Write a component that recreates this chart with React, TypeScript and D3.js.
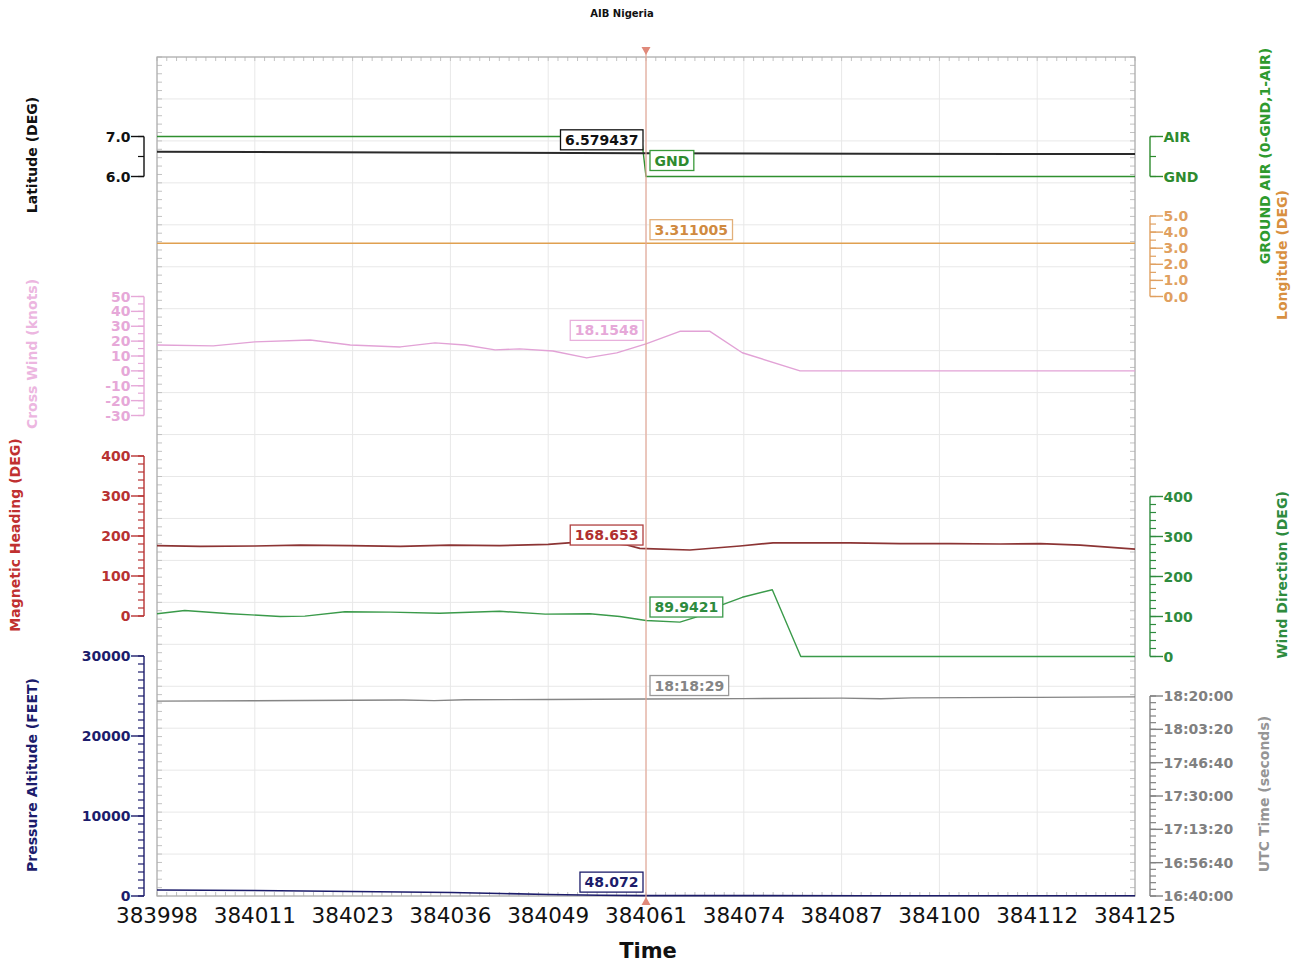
import React from "react";
import * as d3 from "d3";

// ---- data -------------------------------------------------------------
const TITLE = "AIB Nigeria";
const X_DOMAIN: [number, number] = [383998, 384125];
const X_TICK_VALUES = [383998, 384010.7, 384023.4, 384036.1, 384048.8, 384061.5, 384074.2, 384086.9, 384099.6, 384112.3, 384125];
const X_TICK_LABELS = ["383998", "384011", "384023", "384036", "384049", "384061", "384074", "384087", "384100", "384112", "384125"];
const CURSOR_TIME = 384061.5;

// values shown at the cursor
const CUR_LAT = 6.579437;
const CUR_GROUND = 0;
const CUR_LON = 3.311005;
const CUR_XWIND = 18.1548;
const CUR_HDG = 168.653;
const CUR_WDIR = 89.9421;
const CUR_UTC = 65909;
const CUR_ALT = 48.072;

const latitude: [number, number][] = [
  [383998, 6.62], [384030, 6.6], [CURSOR_TIME, CUR_LAT], [384090, 6.57], [384125, 6.56],
];
const groundAir: [number, number][] = [
  [383998, 1], [384060.9, 1], [CURSOR_TIME, CUR_GROUND], [384125, 0],
];
const longitude: [number, number][] = [
  [383998, CUR_LON], [CURSOR_TIME, CUR_LON], [384125, CUR_LON],
];
const crossWind: [number, number][] = [
  [383998, 17.4], [384005.3, 16.8], [384010.7, 19.5], [384017.9, 20.8], [384023.1, 17.4],
  [384029.6, 16.1], [384034.1, 18.8], [384038, 17.4], [384041.9, 14.1], [384045.1, 14.8],
  [384049.4, 13.4], [384053.8, 8.7], [384057.7, 12.1], [CURSOR_TIME, CUR_XWIND],
  [384065.9, 26.6], [384069.8, 26.6], [384074, 12.2], [384081.5, 0], [384125, 0],
];
const magHeading: [number, number][] = [
  [383998, 176], [384003.6, 174], [384010.7, 175], [384016.6, 177], [384023.1, 176],
  [384029.6, 174], [384036, 177], [384042.5, 176], [384048.8, 179], [384052.3, 184],
  [384055, 186], [384059, 177.5], [384060.7, 169], [CURSOR_TIME, CUR_HDG], [384067.2, 165],
  [384073.7, 175], [384078, 183], [384081.5, 183], [384088, 183], [384094.5, 181],
  [384101, 181], [384107.5, 180], [384112.7, 181], [384117.9, 177], [384125, 167],
];
const windDir: [number, number][] = [
  [383998, 107], [384001.6, 115], [384007.5, 107], [384014, 100], [384017.2, 101],
  [384022.4, 112], [384028.3, 111], [384034.7, 108], [384042.5, 113], [384048.4, 106],
  [384054.2, 107], [384058.1, 100], [CURSOR_TIME, CUR_WDIR], [384065.9, 86],
  [384067.9, 98], [384071.1, 127], [384074, 148], [384077.9, 167], [384081.6, 0], [384125, 0],
];
const pressureAlt: [number, number][] = [
  [383998, 750], [384010.7, 680], [384023.4, 560], [384036.2, 430], [384042.5, 320],
  [384048.8, 180], [384055.5, 90], [CURSOR_TIME, CUR_ALT], [384090, 35], [384125, 30],
];
const utcSeconds: [number, number][] = [
  [383998, 65846], [384010.7, 65859], [384023.4, 65871], [384030, 65878], [384034, 65862],
  [384038, 65886], [384048.8, 65897], [CURSOR_TIME, CUR_UTC], [384074.2, 65922],
  [384086.9, 65935], [384092, 65918], [384096, 65944], [384112.3, 65960], [384125, 65973],
];

const LAT_TICKS = [6.0, 7.0];
const GA_TICKS = [0, 1];
const GA_LABELS = ["GND", "AIR"];
const LON_TICKS = [0, 1, 2, 3, 4, 5];
const XWIND_TICKS = [-30, -20, -10, 0, 10, 20, 30, 40, 50];
const HDG_TICKS = [0, 100, 200, 300, 400];
const WDIR_TICKS = [0, 100, 200, 300, 400];
const ALT_TICKS = [0, 10000, 20000, 30000];
const UTC_TICKS = [60000, 61000, 62000, 63000, 64000, 65000, 66000];

// ---- layout -----------------------------------------------------------
const W = 1302;
const H = 965;
const PLOT = { left: 157, right: 1135, top: 57, bottom: 896 };
const LEFT_AXIS_X = 144;
const RIGHT_AXIS_X = 1150;
const FONT = "'DejaVu Sans', Verdana, sans-serif";

const hms = (s: number) => {
  const h = Math.floor(s / 3600);
  const m = Math.floor((s % 3600) / 60);
  const sec = Math.round(s % 60);
  return [h, m, sec].map((v) => String(v).padStart(2, "0")).join(":");
};

let measureCtx: CanvasRenderingContext2D | null = null;
function textWidth(t: string, font: string) {
  if (!measureCtx && typeof document !== "undefined") {
    measureCtx = document.createElement("canvas").getContext("2d");
  }
  if (!measureCtx) return t.length * 9;
  measureCtx.font = font;
  return measureCtx.measureText(t).width;
}

type Scale = d3.ScaleLinear<number, number>;

function YAxis(props: {
  scale: Scale;
  side: "left" | "right";
  ticks: number[];
  minorStep: number;
  fmt: (v: number, i: number) => string;
  color: string;
}) {
  const { scale, side, ticks, minorStep, fmt, color } = props;
  const x = side === "left" ? LEFT_AXIS_X : RIGHT_AXIS_X;
  const dir = side === "left" ? -1 : 1;
  const [d0, d1] = scale.domain();
  const minors = d3.range(d0, d1 + minorStep / 2, minorStep);
  const [r0, r1] = scale.range();
  return (
    <g>
      <line x1={x} x2={x} y1={r0} y2={r1} stroke={color} strokeWidth={1.4} />
      {minors.map((v, i) => (
        <line key={"m" + i} x1={x} x2={x + dir * 6} y1={scale(v)} y2={scale(v)} stroke={color} strokeWidth={1.2} />
      ))}
      {ticks.map((v, i) => (
        <g key={"t" + i}>
          <line x1={x} x2={x + dir * 13} y1={scale(v)} y2={scale(v)} stroke={color} strokeWidth={1.4} />
          <text
            x={x + dir * 13.5}
            y={scale(v)}
            dy="0.36em"
            textAnchor={side === "left" ? "end" : "start"}
            fill={color}
            fontSize={14}
            fontWeight="bold"
            fontFamily={FONT}
          >
            {fmt(v, i)}
          </text>
        </g>
      ))}
    </g>
  );
}

function AxisTitle(props: { x: number; y: number; text: string; color: string }) {
  return (
    <text
      transform={`translate(${props.x},${props.y}) rotate(-90)`}
      textAnchor="middle"
      dy="0.36em"
      fill={props.color}
      fontSize={14}
      fontWeight="bold"
      fontFamily={FONT}
    >
      {props.text}
    </text>
  );
}

export default function App() {
  const x = d3.scaleLinear().domain(X_DOMAIN).range([PLOT.left, PLOT.right]);
  const yLat = d3.scaleLinear().domain([6, 7]).range([176.5, 136.5]);
  const yGA = d3.scaleLinear().domain([0, 1]).range([176.5, 136.5]);
  const yLon = d3.scaleLinear().domain([0, 5]).range([296.5, 216]);
  const yXW = d3.scaleLinear().domain([-30, 50]).range([415.5, 296.5]);
  const yHdg = d3.scaleLinear().domain([0, 400]).range([616, 456]);
  const yWd = d3.scaleLinear().domain([0, 400]).range([656.5, 496.5]);
  const yAlt = d3.scaleLinear().domain([0, 30000]).range([896, 656]);
  const yUtc = d3.scaleLinear().domain([60000, 66000]).range([896, 696]);

  const series = [
    { data: groundAir, y: yGA, color: "#2f8f2f", w: 1.4 },
    { data: latitude, y: yLat, color: "#2a2a2a", w: 2 },
    { data: longitude, y: yLon, color: "#e0a050", w: 1.6 },
    { data: crossWind, y: yXW, color: "#e2a2d6", w: 1.4 },
    { data: magHeading, y: yHdg, color: "#8c3434", w: 1.7 },
    { data: windDir, y: yWd, color: "#3a9a4a", w: 1.4 },
    { data: pressureAlt, y: yAlt, color: "#1c1c6a", w: 1.6 },
    { data: utcSeconds, y: yUtc, color: "#858585", w: 1.4 },
  ];

  const cx = x(CURSOR_TIME);
  const boxFont = `bold 14px ${FONT}`;
  const boxes = [
    { text: CUR_LAT.toFixed(6), y: yLat(CUR_LAT), side: "left", color: "#111111", border: "#111111", gap: 3.5 },
    { text: GA_LABELS[CUR_GROUND], y: yGA(CUR_GROUND), side: "right", color: "#2e8b2e", border: "#3a9a3a", gap: 6 },
    { text: CUR_LON.toFixed(6), y: yLon(CUR_LON), side: "right", color: "#d08a40", border: "#e2b07a", gap: 3.5 },
    { text: CUR_XWIND.toFixed(4), y: yXW(CUR_XWIND), side: "left", color: "#e6a8d8", border: "#e8b0dc", gap: 3.5 },
    { text: CUR_HDG.toFixed(3), y: yHdg(CUR_HDG), side: "left", color: "#b03030", border: "#b04040", gap: 3.5 },
    { text: CUR_WDIR.toFixed(4), y: yWd(CUR_WDIR), side: "right", color: "#2e8b3e", border: "#3a9a4a", gap: 3.5 },
    { text: hms(CUR_UTC), y: yUtc(CUR_UTC), side: "right", color: "#858585", border: "#999999", gap: 3.5 },
    { text: CUR_ALT.toFixed(3), y: yAlt(CUR_ALT), side: "left", color: "#1c1c6a", border: "#1c1c6a", gap: 3.5 },
  ];

  const pw = PLOT.right - PLOT.left;
  const ph = PLOT.bottom - PLOT.top;
  const rowLines = d3.range(0, 21).map((k) => PLOT.top + (ph * k) / 20);
  const edgeX = d3.range(0, 101).map((k) => PLOT.left + (pw * k) / 100);
  const edgeY = d3.range(0, 101).map((k) => PLOT.top + (ph * k) / 100);

  return (
    <svg width={W} height={H} style={{ position: "absolute", left: 0, top: 0, background: "#fff" }} fontFamily={FONT}>
      <rect width={W} height={H} fill="#ffffff" />
      <text x={622} y={17} textAnchor="middle" fontSize={10} fontWeight="bold" fill="#111">
        {TITLE}
      </text>

      {/* grid */}
      <g stroke="#e8e8e8" strokeWidth={1}>
        {X_TICK_VALUES.map((v, i) => (
          <line key={"gx" + i} x1={x(v)} x2={x(v)} y1={PLOT.top} y2={PLOT.bottom} />
        ))}
        {rowLines.map((yy, i) => (
          <line key={"gy" + i} x1={PLOT.left} x2={PLOT.right} y1={yy} y2={yy} />
        ))}
      </g>
      {/* inner edge ticks */}
      <g stroke="#c2c2c2" strokeWidth={1}>
        {edgeX.map((xx, i) => (
          <g key={"ex" + i}>
            <line x1={xx} x2={xx} y1={PLOT.top} y2={PLOT.top + 4} />
            <line x1={xx} x2={xx} y1={PLOT.bottom} y2={PLOT.bottom - 4} />
          </g>
        ))}
        {edgeY.map((yy, i) => (
          <g key={"ey" + i}>
            <line x1={PLOT.left} x2={PLOT.left + 5} y1={yy} y2={yy} />
            <line x1={PLOT.right} x2={PLOT.right - 5} y1={yy} y2={yy} />
          </g>
        ))}
      </g>
      <rect x={PLOT.left} y={PLOT.top} width={pw} height={ph} fill="none" stroke="#acacac" strokeWidth={1.2} />

      {/* series */}
      {series.map((s, i) => {
        const line = d3
          .line<[number, number]>()
          .x((d) => x(d[0]))
          .y((d) => s.y(d[1]));
        return <path key={"s" + i} d={line(s.data) || ""} fill="none" stroke={s.color} strokeWidth={s.w} strokeLinejoin="round" />;
      })}

      {/* cursor */}
      <line x1={cx} x2={cx} y1={50} y2={902} stroke="#e4a898" strokeWidth={1.2} />
      <path d={`M${cx - 4.5},47 L${cx + 4.5},47 L${cx},55 Z`} fill="#e0897a" />
      <path d={`M${cx - 4.5},905 L${cx + 4.5},905 L${cx},897 Z`} fill="#e0897a" />

      {/* value boxes */}
      {boxes.map((b, i) => {
        const tw = textWidth(b.text, boxFont);
        const bw = tw + 9;
        const bh = 20;
        const bx = b.side === "left" ? cx - 3 - bw : cx + 4;
        const by = b.y - b.gap - bh;
        return (
          <g key={"b" + i}>
            <rect x={bx} y={by} width={bw} height={bh} fill="#ffffff" stroke={b.border} strokeWidth={1.3} />
            <text x={bx + bw / 2} y={by + bh / 2} dy="0.36em" textAnchor="middle" fontSize={14} fontWeight="bold" fill={b.color}>
              {b.text}
            </text>
          </g>
        );
      })}

      {/* axes */}
      <YAxis scale={yLat} side="left" ticks={LAT_TICKS} minorStep={0.5} fmt={(v) => v.toFixed(1)} color="#111111" />
      <YAxis scale={yXW} side="left" ticks={XWIND_TICKS} minorStep={5} fmt={(v) => String(v)} color="#e6a8d8" />
      <YAxis scale={yHdg} side="left" ticks={HDG_TICKS} minorStep={20} fmt={(v) => String(v)} color="#b83232" />
      <YAxis scale={yAlt} side="left" ticks={ALT_TICKS} minorStep={1000} fmt={(v) => String(v)} color="#1c1c6c" />
      <YAxis scale={yGA} side="right" ticks={GA_TICKS} minorStep={0.5} fmt={(_, i) => GA_LABELS[i]} color="#2e8b2e" />
      <YAxis scale={yLon} side="right" ticks={LON_TICKS} minorStep={0.5} fmt={(v) => v.toFixed(1)} color="#e0a060" />
      <YAxis scale={yWd} side="right" ticks={WDIR_TICKS} minorStep={20} fmt={(v) => String(v)} color="#2e8b3e" />
      <YAxis scale={yUtc} side="right" ticks={UTC_TICKS} minorStep={200} fmt={(v) => hms(v)} color="#808080" />

      {/* axis titles */}
      <AxisTitle x={32} y={155} text="Latitude (DEG)" color="#111111" />
      <AxisTitle x={32} y={354} text="Cross Wind (knots)" color="#ecb6e0" />
      <AxisTitle x={15} y={535} text="Magnetic Heading (DEG)" color="#c03030" />
      <AxisTitle x={32} y={775} text="Pressure Altitude (FEET)" color="#1c1c6c" />
      <AxisTitle x={1265} y={156} text="GROUND AIR (0-GND,1-AIR)" color="#2e9a2e" />
      <AxisTitle x={1282} y={255} text="Longitude (DEG)" color="#d89040" />
      <AxisTitle x={1282} y={575} text="Wind Direction (DEG)" color="#2e8b3e" />
      <AxisTitle x={1264} y={794} text="UTC Time (seconds)" color="#959595" />

      {/* x axis labels */}
      {X_TICK_VALUES.map((v, i) => (
        <text key={"xl" + i} x={x(v)} y={922.5} textAnchor="middle" fontSize={21.5} fill="#111">
          {X_TICK_LABELS[i]}
        </text>
      ))}
      <text x={648} y={958} textAnchor="middle" fontSize={21} fontWeight="bold" fill="#111">
        Time
      </text>
    </svg>
  );
}
